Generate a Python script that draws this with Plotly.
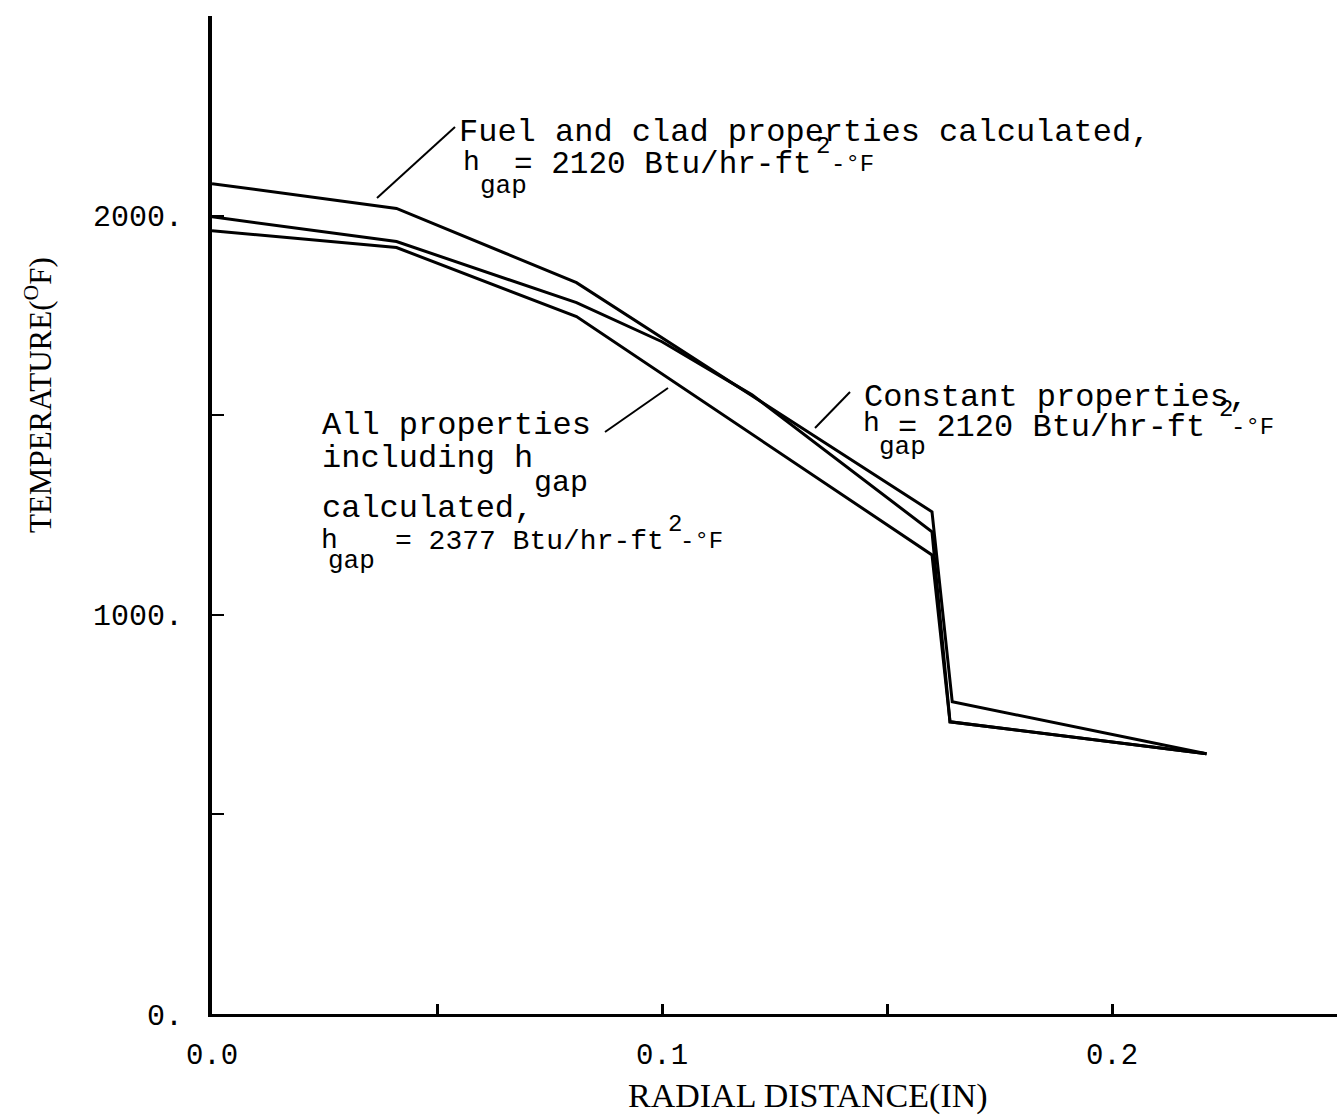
import plotly.graph_objects as go

# Radial temperature profiles through fuel, gap and clad
x_fuel_clad = [0.0, 0.041, 0.081, 0.160, 0.1645, 0.221]
t_fuel_clad = [2080, 2018, 1832, 1258, 782, 652]

x_constant = [0.0, 0.041, 0.081, 0.100, 0.120, 0.160, 0.164, 0.221]
t_constant = [1997, 1935, 1782, 1684, 1551, 1208, 732, 652]

x_all = [0.0, 0.041, 0.081, 0.160, 0.164, 0.221]
t_all = [1962, 1920, 1747, 1150, 732, 652]

x_tickvals = [0.0, 0.05, 0.10, 0.15, 0.20, 0.25]
x_ticktext = ["0.0", "", "0.1", "", "0.2", ""]
y_tickvals = [0, 500, 1000, 1500, 2000, 2500]
y_ticktext = ["0.", "", "1000.", "", "2000.", ""]

W, H = 1341, 1116
ML, MR, MT, MB = 212, 4, 16, 102
MONO = "Liberation Mono, Courier New, monospace"
SERIF = "Liberation Serif, Times New Roman, serif"

fig = go.Figure()
for xs, ts in [(x_fuel_clad, t_fuel_clad), (x_constant, t_constant), (x_all, t_all)]:
    fig.add_trace(go.Scatter(x=xs, y=ts, mode="lines",
                             line=dict(color="black", width=3),
                             showlegend=False, hoverinfo="skip"))


def px(xp, yp):
    """Convert page pixel position to paper coordinates."""
    return (xp - ML) / (W - ML - MR), (H - MB - yp) / (H - MT - MB)


def label(text, xp, yp, size, font=MONO, anchor="left"):
    xx, yy = px(xp, yp)
    fig.add_annotation(x=xx, y=yy, xref="paper", yref="paper", text=text,
                       showarrow=False, xanchor=anchor, yanchor="middle",
                       font=dict(family=font, size=size, color="black"))


def leader(x0, y0, x1, y1):
    a, b = px(x0, y0)
    c, d = px(x1, y1)
    fig.add_shape(type="line", xref="paper", yref="paper", x0=a, y0=b, x1=c, y1=d,
                  line=dict(color="black", width=2))


# Fuel and clad properties calculated
label("Fuel and clad properties calculated,", 457, 133, 32)
label("h", 461, 162, 28)
label("gap", 478, 186, 26)
label("= 2120 Btu/hr-ft", 512, 165, 31)
label("2", 814, 147, 24)
label("-°F", 829, 165, 24)
leader(455, 127, 377, 198)

# Constant properties
label("Constant properties,", 862, 397, 32)
label("h", 861, 424, 28)
label("gap", 877, 447, 26)
label("= 2120 Btu/hr-ft", 896, 427, 32)
label("2", 1217, 409, 24)
label("-°F", 1229, 427, 24)
leader(850, 392, 815, 428)

# All properties including h_gap calculated
label("All properties", 320, 425, 32)
label("including h", 320, 458, 32)
label("gap", 532, 483, 30)
label("calculated,", 320, 508, 32)
label("h", 319, 540, 28)
label("gap", 326, 561, 26)
label("= 2377 Btu/hr-ft", 393, 541, 28)
label("2", 666, 524, 24)
label("-°F", 678, 541, 24)
leader(605, 432, 668, 388)

# Axis titles
label("RADIAL DISTANCE(IN)", 808, 1096, 34, font=SERIF, anchor="center")
yx, yy = px(38, 395)
fig.add_annotation(x=yx, y=yy, xref="paper", yref="paper",
                   text="TEMPERATURE(<sup>O</sup>F)", textangle=-90,
                   showarrow=False, xanchor="center", yanchor="middle",
                   font=dict(family=SERIF, size=31, color="black"))

fig.update_xaxes(range=[0, 0.25], tickvals=x_tickvals, ticktext=x_ticktext,
                 ticks="inside", ticklen=10, tickwidth=3, tickcolor="black",
                 showline=True, linewidth=3, linecolor="black",
                 showgrid=False, zeroline=False, ticklabelstandoff=12,
                 tickfont=dict(family=MONO, size=29, color="black"))
fig.update_yaxes(range=[0, 2500], tickvals=y_tickvals, ticktext=y_ticktext,
                 ticks="inside", ticklen=12, tickwidth=2, tickcolor="black",
                 showline=True, linewidth=4, linecolor="black",
                 showgrid=False, zeroline=False, ticklabelstandoff=19,
                 tickfont=dict(family=MONO, size=30, color="black"))

fig.update_layout(width=W, height=H, margin=dict(l=ML, r=MR, t=MT, b=MB),
                  plot_bgcolor="white", paper_bgcolor="white")

fig.write_html("out.html")
